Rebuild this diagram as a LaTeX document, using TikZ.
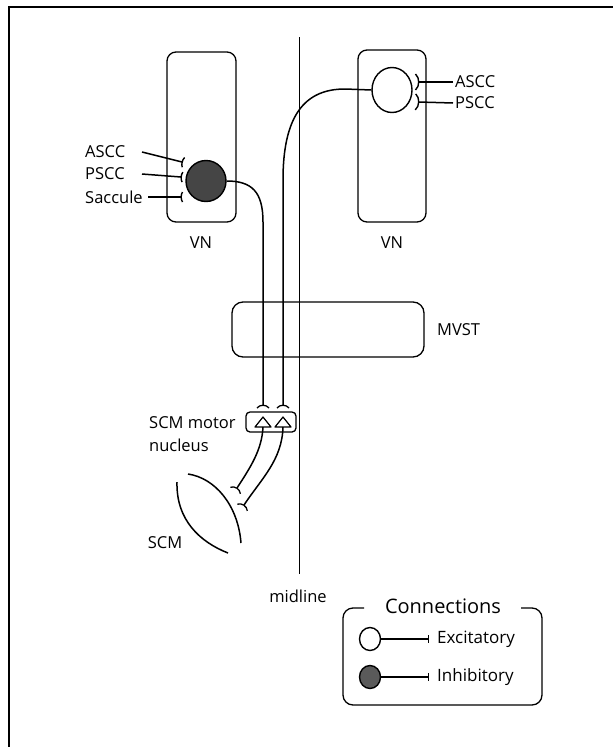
\documentclass[tikz,border=0pt]{standalone}
\usepackage{fontspec}
\setmainfont{Open Sans}
\usetikzlibrary{arrows.meta,decorations.markings,shapes.geometric}
\definecolor{inhfill}{HTML}{454545}
\definecolor{inhfillL}{HTML}{5A5A5A}
\begin{document}
\begin{tikzpicture}[x=1pt,y=-1pt,
  lbl/.style={inner sep=0pt, font=\fontsize{16.5}{19}\selectfont},
  leglbl/.style={inner sep=0pt, font=\fontsize{17}{20}\selectfont},
  region/.style={draw, line width=1.3pt, rounded corners=9pt, inner sep=0pt},
  axon/.style={line width=1.5pt},
  cup/.style={postaction={decorate}, decoration={markings, mark=at position 1 with {\draw[line width=1.3pt] (3,-6) .. controls (-0.7,-3) and (-0.7,3) .. (3,6);}}},
  flatcup/.style={postaction={decorate}, decoration={markings, mark=at position 1 with {\draw[line width=1.4pt] (1.5,-5) .. controls (-0.3,-2.5) and (-0.3,2.5) .. (1.5,5);}}},
  widecup/.style={postaction={decorate}, decoration={markings, mark=at position 1 with {\draw[line width=1.4pt] (3.5,-8) .. controls (-0.8,-4) and (-0.8,4) .. (3.5,8);}}},
  cellE/.style={draw, ellipse, line width=1.4pt, minimum width=40pt, minimum height=45pt, inner sep=0pt},
  cellI/.style={draw, ellipse, line width=1.4pt, fill=inhfill, minimum width=40pt, minimum height=41pt, inner sep=0pt},
  frame/.style={line width=1.5pt},
]
\useasboundingbox (0,0) rectangle (613,747);
% outer frame
\draw[frame] (613,7) -- (9,7) -- (9,747);

% regions
\node[region, minimum width=69pt, minimum height=170pt] (vnL) at (201.5,137) {};
\node[region, minimum width=68pt, minimum height=172pt] (vnR) at (392,136) {};
\node[region, rounded corners=11pt, minimum width=192pt, minimum height=55pt] (mvst) at (328,329.5) {};
\node[region, rounded corners=4pt, minimum width=50pt, minimum height=20pt] (mn) at (271,422) {};

% labels
\node[lbl] (vnLl) at (201,243) {VN};
\node[lbl] (vnRl) at (392,243) {VN};
\node[lbl, anchor=west] (mvstl) at (437,330) {MVST};
\node[inner sep=0pt, anchor=west, align=left, font=\fontsize{16.5}{23}\selectfont] (mnl) at (149,434) {SCM motor\\nucleus};
\node[lbl] (scml) at (165,543) {SCM};
\node[lbl] (midl) at (298,596) {midline};

% midline
\coordinate (mtop) at (299,37);
\coordinate (mbot) at (299,574);
\draw[line width=0.9pt] (mtop) -- (mbot);

% cells
\node[cellI] (inhL) at (206,181) {};
\node[cellE] (excR) at (392,90) {};

% left inputs
\node[lbl, anchor=west] (asccL) at (85,152) {ASCC};
\node[lbl, anchor=west] (psccL) at (85,174) {PSCC};
\node[lbl, anchor=west] (sacL) at (85,197) {Saccule};
\coordinate (aLs) at (142,152); \coordinate (aLe) at (182,162);
\coordinate (pLs) at (142,174); \coordinate (pLe) at (181,177);
\coordinate (sLs) at (148,197); \coordinate (sLe) at (181,197);
\draw[axon, flatcup] (aLs) -- (aLe);
\draw[axon, flatcup] (pLs) -- (pLe);
\draw[axon, flatcup] (sLs) -- (sLe);

% right inputs
\node[lbl, anchor=west] (asccR) at (455,82) {ASCC};
\node[lbl, anchor=west] (psccR) at (455,103) {PSCC};
\coordinate (aRe) at (419,82);
\coordinate (pRe) at (419,102);
\draw[axon, widecup] ([xshift=-2pt]asccR.west) -- (aRe);
\draw[axon, widecup] ([xshift=-2pt]psccR.west) -- (pRe);

% descending axons
\coordinate (tL) at (263,405);
\coordinate (tR) at (283,405);
\draw[axon, cup] (inhL.east) .. controls (252,181) and (263,192) .. (263,222) -- (tL);
\draw[axon, cup] (excR.west) -- (345,89) .. controls (303,89) and (283,118) .. (283,180) -- (tR);

% motor neurons (triangles)
\draw[line width=1.2pt, line join=round] (255,427) -- (263,417) -- (271,427) -- cycle;
\draw[line width=1.2pt, line join=round] (275,427) -- (283,417) -- (291,427) -- cycle;

% motor axons to muscle
\coordinate (b1) at (263,427);
\coordinate (b2) at (283,427);
\coordinate (m1) at (237,488);
\coordinate (m2) at (244,505);
\draw[axon, cup] (b1) .. controls (262,450) and (250,468) .. (m1);
\draw[axon, cup] (b2) .. controls (282,460) and (262,478) .. (m2);

% muscle
\draw[line width=1.5pt] (188,474) .. controls (215,478) and (238,505) .. (241,543);
\draw[line width=1.5pt] (177,482) .. controls (176,520) and (200,542) .. (228,553);

% legend
\draw[line width=1.3pt, rounded corners=10pt] (364,608) -- (343,608) -- (343,705) -- (542,705) -- (542,608) -- (521,608);
\node[inner sep=0pt, font=\fontsize{20}{24}\selectfont] (leg) at (443,606) {Connections};
\node[cellE, minimum width=21pt, minimum height=23pt] (lgE) at (370,639) {};
\node[cellI, fill=inhfillL, minimum width=21pt, minimum height=23pt] (lgI) at (370,677) {};
\node[leglbl, anchor=west] (lgEt) at (437,639) {Excitatory};
\node[leglbl, anchor=west] (lgIt) at (437,677) {Inhibitory};
\coordinate (lgEb) at (429,639);
\coordinate (lgIb) at (429,677);
\draw[line width=1.2pt, -{Bar[width=8pt,line width=1.4pt]}] (lgE.east) -- (lgEb);
\draw[line width=1.2pt, -{Bar[width=8pt,line width=1.4pt]}] (lgI.east) -- (lgIb);
\end{tikzpicture}
\end{document}
